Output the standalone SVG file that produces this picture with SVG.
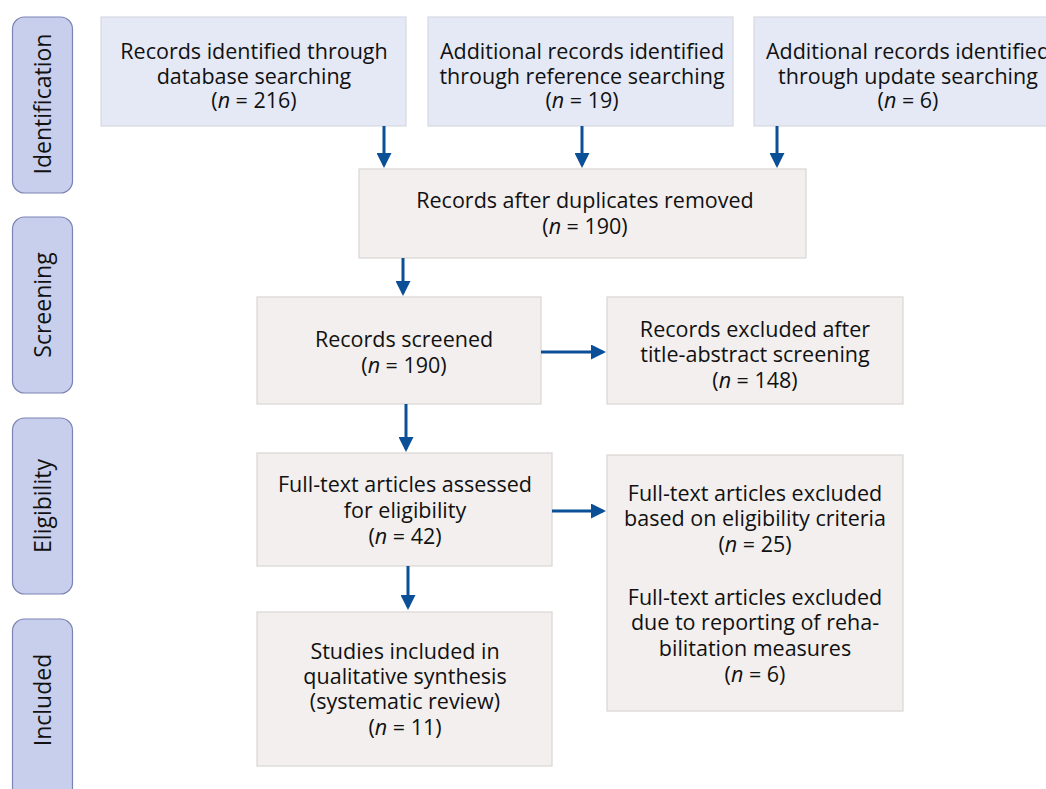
<svg xmlns="http://www.w3.org/2000/svg" width="1046" height="789" viewBox="0 0 1046 789">
<defs>
<marker id="ah" markerWidth="5" markerHeight="5" refX="4" refY="2.5" orient="auto" markerUnits="strokeWidth">
<path d="M0,0 L5,2.5 L0,5 z" fill="#0b4f97"/>
</marker>
<style>
.side{fill:#c8cfec;stroke:#7c84b4;stroke-width:1.2}
.blue{fill:#e5e9f5;stroke:#d6d9e2;stroke-width:1.2}
.gray{fill:#f2efee;stroke:#d9d6d4;stroke-width:1.2}
text{font-family:"Open Sans","Noto Sans",sans-serif;font-size:21.5px;fill:#111111;text-anchor:middle}
.lab{font-size:23px}
.c{stroke:#0b4f97;stroke-width:3;fill:none;marker-end:url(#ah)}
</style>
</defs>
<rect width="1046" height="789" fill="#ffffff"/>
<g id="lane-identification"><rect class="side" x="12.5" y="17" width="60" height="176" rx="12"/><text class="lab" transform="translate(51,104) rotate(-90)">Identification</text></g>
<g id="lane-screening"><rect class="side" x="12.5" y="217" width="60" height="176" rx="12"/><text class="lab" transform="translate(51,305) rotate(-90)">Screening</text></g>
<g id="lane-eligibility"><rect class="side" x="12.5" y="418" width="60" height="176" rx="12"/><text class="lab" transform="translate(51,506) rotate(-90)">Eligibility</text></g>
<g id="lane-included"><rect class="side" x="12.5" y="619" width="60" height="190" rx="12"/><text class="lab" transform="translate(51,700) rotate(-90)">Included</text></g>

<g id="n-db"><rect class="blue" x="101" y="17" width="305" height="109"/><text x="254" y="59">Records identified through</text><text x="254" y="84">database searching</text><text x="254" y="108">(<tspan font-style="italic">n</tspan> = 216)</text></g>
<g id="n-ref"><rect class="blue" x="428" y="17" width="305" height="109"/><text x="582" y="59">Additional records identified</text><text x="582" y="84">through reference searching</text><text x="582" y="108">(<tspan font-style="italic">n</tspan> = 19)</text></g>
<g id="n-upd"><rect class="blue" x="754" y="17" width="305" height="109"/><text x="908" y="59">Additional records identified</text><text x="908" y="84">through update searching</text><text x="908" y="108">(<tspan font-style="italic">n</tspan> = 6)</text></g>

<g id="n-dup"><rect class="gray" x="359" y="169" width="447" height="89"/><text x="585" y="208">Records after duplicates removed</text><text x="585" y="234">(<tspan font-style="italic">n</tspan> = 190)</text></g>
<g id="n-screened"><rect class="gray" x="257" y="297" width="284" height="107"/><text x="404" y="347">Records screened</text><text x="404" y="373">(<tspan font-style="italic">n</tspan> = 190)</text></g>
<g id="n-excl1"><rect class="gray" x="607" y="297" width="296" height="107"/><text x="755" y="337">Records excluded after</text><text x="755" y="362">title-abstract screening</text><text x="755" y="388">(<tspan font-style="italic">n</tspan> = 148)</text></g>
<g id="n-full"><rect class="gray" x="257" y="453" width="295" height="113"/><text x="405" y="492">Full-text articles assessed</text><text x="405" y="518">for eligibility</text><text x="405" y="544">(<tspan font-style="italic">n</tspan> = 42)</text></g>
<g id="n-excl2"><rect class="gray" x="607" y="455" width="296" height="256"/><text x="755" y="501">Full-text articles excluded</text><text x="755" y="526">based on eligibility criteria</text><text x="755" y="552">(<tspan font-style="italic">n</tspan> = 25)</text><text x="755" y="605">Full-text articles excluded</text><text x="755" y="630">due to reporting of reha-</text><text x="755" y="656">bilitation measures</text><text x="755" y="682">(<tspan font-style="italic">n</tspan> = 6)</text></g>
<g id="n-incl"><rect class="gray" x="257" y="612" width="295" height="154"/><text x="405" y="659">Studies included in</text><text x="405" y="684">qualitative synthesis</text><text x="405" y="709">(systematic review)</text><text x="405" y="735">(<tspan font-style="italic">n</tspan> = 11)</text></g>

<g id="connectors">
<line class="c" x1="384" y1="126" x2="384" y2="165"/>
<line class="c" x1="582" y1="126" x2="582" y2="165"/>
<line class="c" x1="777" y1="126" x2="777" y2="165"/>
<line class="c" x1="403" y1="258" x2="403" y2="293"/>
<line class="c" x1="541" y1="352" x2="603" y2="352"/>
<line class="c" x1="406" y1="404" x2="406" y2="449"/>
<line class="c" x1="552" y1="511" x2="603" y2="511"/>
<line class="c" x1="408" y1="566" x2="408" y2="607"/>
</g>
</svg>
